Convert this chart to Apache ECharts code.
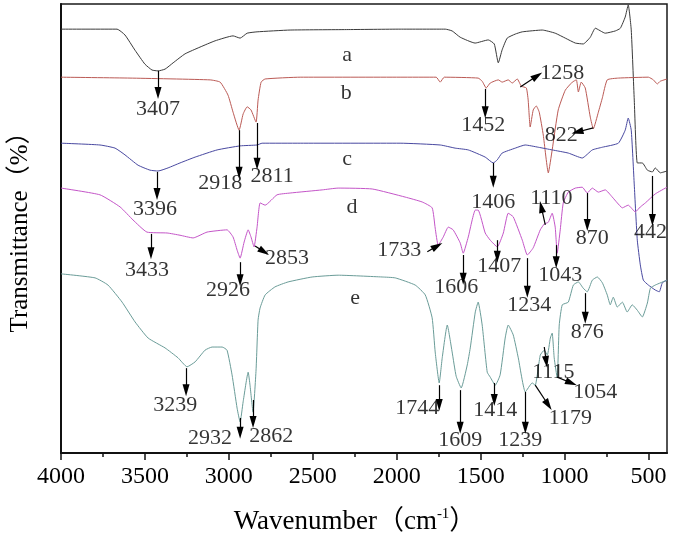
<!DOCTYPE html>
<html><head><meta charset="utf-8">
<script src="https://cdn.jsdelivr.net/npm/echarts@6/dist/echarts.min.js"></script>
<style>html,body{margin:0;padding:0;background:#fff}#c{width:675px;height:540px}</style>
</head><body><div id="c"></div>
<script>
// Tick values (cm-1)
const xTicks = [500,1000,1500,2000,2500,3000,3500,4000];
const minorTicks = [750,1250,1750,2250,2750,3250,3750];

// Spectra: [wavenumber, transmittance (offset, a.u. 0-100)]
const curveA = [[4000,94.4],[3666,94.4],[3619,93.1],[3559,89.7],[3500,86.6],[3458,85.3],[3422,85.1],[3380,85.5],[3332,86.9],[3261,88.9],[3172,90.4],[3082,91.8],[2975,92.9],[2933,92.4],[2891,93.5],[2832,93.8],[2635,94.2],[2300,94.3],[1980,94.4],[1711,94.4],[1670,94.0],[1622,92.6],[1533,91.3],[1455,92.0],[1419,91.1],[1395,86.9],[1372,89.8],[1342,92.4],[1294,93.3],[1252,93.8],[1133,94.2],[1056,93.5],[996,92.4],[936,91.3],[889,91.1],[847,92.6],[817,94.6],[758,93.5],[698,94.0],[668,94.6],[639,97.1],[621,99.8],[603,94.2],[585,78.6],[567,64.6],[537,64.6],[507,63.0],[477,62.6],[460,63.5],[430,62.4],[390,62.8]];
const curveB = [[4000,83.7],[3589,83.5],[3112,83.1],[3052,82.6],[3005,79.7],[2975,75.9],[2939,71.9],[2915,75.5],[2891,77.1],[2868,76.4],[2838,73.7],[2826,78.6],[2808,82.6],[2784,83.3],[2575,83.7],[1980,83.7],[1765,83.7],[1741,82.6],[1717,83.7],[1515,83.5],[1491,82.8],[1467,81.3],[1443,82.4],[1395,83.1],[1372,82.6],[1336,83.1],[1312,82.4],[1282,83.3],[1258,81.7],[1228,81.3],[1217,78.6],[1205,72.6],[1187,76.4],[1169,77.3],[1151,75.9],[1127,70.8],[1097,62.4],[1074,67.5],[1038,76.4],[996,80.8],[954,82.6],[930,83.1],[918,80.4],[901,82.6],[877,81.3],[847,74.8],[829,72.2],[799,75.9],[775,79.1],[746,83.1],[680,83.5],[501,83.7],[471,83.1],[448,82.2],[430,82.8],[390,83.3]];
const curveC = [[4000,69.0],[3768,68.6],[3678,67.9],[3619,66.4],[3541,64.1],[3470,63.0],[3422,62.8],[3362,63.5],[3291,64.6],[3201,65.9],[3070,67.5],[2933,68.4],[2832,68.6],[2802,69.0],[2575,69.0],[1980,69.0],[1741,68.6],[1652,67.9],[1574,67.5],[1473,65.9],[1425,64.6],[1401,65.3],[1372,66.8],[1294,67.9],[1235,68.6],[1157,68.1],[1074,67.5],[978,66.8],[895,65.7],[835,67.5],[775,68.1],[680,69.0],[639,71.9],[621,74.6],[603,71.9],[585,59.7],[567,47.4],[549,41.9],[531,38.5],[501,37.4],[460,36.3],[436,35.9],[418,37.9],[390,38.5]];
const curveD = [[4000,59.0],[3768,57.5],[3648,54.8],[3571,51.9],[3488,49.2],[3368,49.0],[3291,48.5],[3213,47.9],[3130,49.2],[3011,49.7],[2975,48.1],[2951,45.2],[2933,43.4],[2909,47.0],[2885,49.7],[2868,48.1],[2850,45.9],[2832,50.3],[2814,55.7],[2784,55.2],[2713,57.5],[2635,57.9],[2444,58.6],[2349,59.0],[2146,58.8],[1950,57.0],[1848,55.9],[1789,54.6],[1771,50.1],[1753,46.3],[1723,48.1],[1693,50.3],[1664,49.7],[1622,46.8],[1604,44.5],[1574,48.1],[1532,54.1],[1515,54.1],[1473,49.0],[1443,47.4],[1401,45.9],[1365,49.0],[1336,53.4],[1306,52.6],[1252,47.4],[1222,44.1],[1187,45.7],[1145,49.7],[1121,51.0],[1097,51.4],[1074,53.4],[1056,50.3],[1044,44.5],[1026,49.7],[1008,55.7],[978,58.1],[936,59.0],[895,59.2],[865,57.9],[835,59.0],[799,58.1],[758,58.6],[716,57.0],[686,55.7],[656,54.6],[621,55.2],[579,53.7],[549,54.8],[519,55.7],[460,57.7],[390,59.2]];
const curveE = [[4000,39.9],[3797,39.0],[3720,37.4],[3636,33.6],[3559,29.2],[3481,25.6],[3380,23.4],[3303,21.2],[3249,19.2],[3201,20.3],[3142,22.9],[3100,23.6],[3040,23.6],[3011,22.9],[2981,17.4],[2951,10.0],[2933,6.9],[2915,11.4],[2885,18.0],[2874,15.1],[2856,9.1],[2838,18.5],[2826,29.6],[2814,32.3],[2784,35.2],[2725,37.0],[2647,38.1],[2504,39.2],[2349,39.6],[2087,39.2],[2009,39.0],[1890,37.4],[1830,35.2],[1789,30.1],[1771,22.5],[1747,15.6],[1729,21.2],[1699,28.5],[1670,22.5],[1646,17.1],[1616,14.5],[1580,19.6],[1562,23.4],[1532,31.4],[1515,33.6],[1491,28.5],[1461,18.0],[1443,16.9],[1413,15.1],[1384,17.4],[1354,25.6],[1336,28.5],[1306,26.3],[1276,21.2],[1234,13.6],[1193,15.6],[1175,15.1],[1145,21.8],[1121,22.9],[1103,21.8],[1085,25.6],[1074,26.7],[1062,21.2],[1044,16.7],[1032,28.5],[1014,33.0],[978,33.6],[948,37.4],[918,38.1],[889,36.7],[865,35.9],[835,38.5],[805,39.2],[775,37.9],[746,35.2],[728,33.0],[710,34.7],[686,32.5],[656,33.6],[627,31.4],[597,33.0],[567,31.8],[537,30.3],[507,33.4],[489,36.7],[460,37.4],[390,38.5]];

// Peak annotations: [text, wavenumber, value] and arrows [fromW, fromT, toW, toT]
const peakLabels = [['3407',3422,76.6],['2918',3052,60.1],['2811',2742,61.7],['3396',3440,54.3],['1406',1425,55.9],['1452',1485,73.1],['1258',1014,84.6],['822',1020,70.8],['442',489,49.2],['3433',3487,40.8],['2926',3005,36.3],['2853',2653,43.4],['1733',1985,45.2],['1606',1646,37.0],['1407',1389,41.6],['1234',1210,33.0],['1110',1079,56.8],['1043',1026,39.6],['870',835,47.9],['3239',3320,10.7],['2932',3112,3.3],['2862',2748,3.8],['1744',1878,10.0],['1609',1622,2.9],['1414',1413,9.6],['1239',1264,2.9],['1179',966,7.8],['1115',1067,18.0],['1054',817,13.6],['876',865,26.9]];
const peakArrows = [[3422,85.1,3422,80.2],[2939,71.9,2939,62.4],[2832,73.5,2832,64.4],[3428,62.6,3428,57.7],[1425,64.6,1425,60.4],[1473,81.1,1473,75.9],[1264,81.5,1163,84.0],[829,72.4,924,71.5],[477,61.7,477,51.9],[3464,48.8,3464,44.5],[2933,42.5,2933,38.5],[2844,46.1,2790,44.8],[1818,44.8,1759,46.1],[1604,44.1,1604,38.8],[1401,47.4,1401,43.7],[1222,43.4,1222,35.9],[1115,50.8,1139,54.8],[1050,46.3,1050,42.5],[865,57.9,865,50.8],[3255,18.9,3255,14.0],[2933,7.8,2933,4.5],[2856,11.8,2856,6.9],[1747,15.1,1747,10.7],[1622,14.0,1622,5.6],[1419,15.6,1419,11.8],[1234,13.6,1234,5.6],[1175,15.1,1097,10.7],[1121,23.6,1109,20.3],[1044,16.9,960,15.6],[877,35.6,877,30.1]];
const curveNames = [['a',2295,88.6],['b',2301,80.2],['c',2295,65.5],['d',2266,54.8],['e',2248,34.5]];

const FONT = "'Liberation Serif','Times New Roman','Noto Sans CJK SC',serif";
const chart = echarts.init(document.getElementById('c'), null, {renderer:'canvas'});
const lineColors = ['#3a3a3a','#bb5a55','#4848a0','#c455c8','#6a9c98'];
const curves = [curveA, curveB, curveC, curveD, curveE];

const series = curves.map((d,i)=>({
  type:'line', data:d, showSymbol:false, symbol:'none', smooth:0.15,
  lineStyle:{width:1, color:lineColors[i]}, silent:true, z:2
}));
series.push({
  type:'line', data:[], silent:true, z:4,
  markLine:{
    silent:true, symbol:['none','triangle'], symbolSize:10, animation:false,
    label:{show:false},
    itemStyle:{color:'#000'},
    lineStyle:{color:'#000', width:1.2, type:'solid'},
    emphasis:{disabled:true},
    data: peakArrows.map(a=>[{coord:[a[0],a[1]]},{coord:[a[2],a[3]], symbolSize:[7,12]}])
  }
});
const labelStyle = {show:true, position:'inside', formatter:p=>p.name, color:'#000', fontSize:22, fontFamily:FONT, textBorderWidth:0};
series.push({
  type:'scatter', symbolSize:0, silent:true, z:5,
  data: peakLabels.map(p=>({value:[p[1],p[2]], name:p[0]})),
  label:labelStyle
});
series.push({
  type:'scatter', symbolSize:0, silent:true, z:5,
  data: curveNames.map(p=>({value:[p[1],p[2]], name:p[0]})),
  label:labelStyle
});

chart.setOption({
  animation:false,
  backgroundColor:'#fff',
  grid:{left:61, right:8, top:4, bottom:87, show:true, borderColor:'#1a1a1a', borderWidth:1.5, containLabel:false},
  xAxis:[{
    type:'value', min:390, max:4000, inverse:true, position:'bottom',
    axisLine:{show:true, onZero:false, lineStyle:{color:'#111', width:2}},
    axisTick:{show:true, customValues:xTicks, length:7, lineStyle:{color:'#111', width:1.5}},
    axisLabel:{show:true, customValues:xTicks, margin:12, fontSize:24, color:'#000', fontFamily:FONT, formatter:v=>String(v)},
    splitLine:{show:false}
  },{
    type:'value', min:390, max:4000, inverse:true, position:'bottom', offset:0,
    axisLine:{show:false},
    axisTick:{show:true, customValues:minorTicks, length:4, lineStyle:{color:'#111', width:1.5}},
    axisLabel:{show:false}, splitLine:{show:false}
  }],
  yAxis:{
    type:'value', min:0, max:100,
    axisLine:{show:true, lineStyle:{color:'#111', width:2}},
    axisTick:{show:false}, axisLabel:{show:false}, splitLine:{show:false}
  },
  graphic:[
    {type:'text', x:355, y:522, style:{
      text:'{n|Wavenumber（cm}{s|-1}{n|）}', align:'center', verticalAlign:'middle',
      rich:{n:{fontSize:27, fontFamily:FONT, fill:'#000', lineHeight:32},
            s:{fontSize:15, fontFamily:FONT, fill:'#000', lineHeight:32, padding:[0,0,15,0]}}
    }},
    {type:'text', x:20, y:226, rotation:Math.PI/2, style:{
      text:'Transmittance（%）', align:'center', verticalAlign:'middle',
      fontSize:25, fontFamily:FONT, fill:'#000'
    }}
  ],
  series: series
});
</script></body></html>
